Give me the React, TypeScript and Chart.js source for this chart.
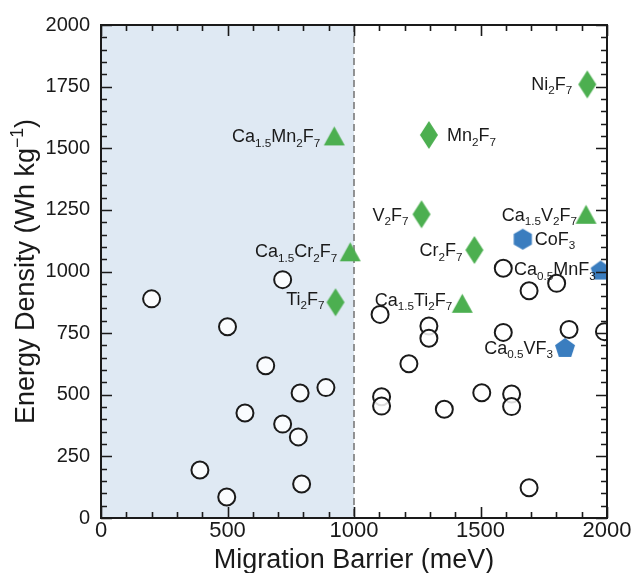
import { useEffect, useRef } from 'react';
import { Chart, registerables } from 'chart.js';

Chart.register(...registerables);

// ---------- data ----------
const X_MIN = 0;
const X_MAX = 2000;
const Y_MIN = 0;
const Y_MAX = 2000;
const X_TICKS = [0, 500, 1000, 1500, 2000];
const Y_TICKS = [0, 250, 500, 750, 1000, 1250, 1500, 1750, 2000];
const X_MINOR_STEP = 100;
const Y_MINOR_STEP = 50;
const BARRIER_LIMIT = 1000;

const X_TITLE = 'Migration Barrier (meV)';
const Y_TITLE = 'Energy Density (Wh kg^{−1})';

// other (unlabelled) compounds - open circles
const OTHER_X = [200, 497, 500, 651, 569, 718, 718, 787, 780, 889, 793, 391,
  1103, 1296, 1296, 1217, 1109, 1109, 1357, 1505, 1623, 1623, 1692, 1590, 1850, 1990, 1692, 1801, 1590];
const OTHER_Y = [889, 85, 776, 618, 426, 967, 381, 507, 329, 529, 138, 195,
  826, 779, 729, 626, 492, 454, 441, 508, 503, 452, 123, 753, 765, 756, 922, 952, 1013];

// Ca1.5M2F7 - triangles
const TRI_NAMES = ['Ca_{1.5}Mn_{2}F_{7}', 'Ca_{1.5}Cr_{2}F_{7}', 'Ca_{1.5}V_{2}F_{7}', 'Ca_{1.5}Ti_{2}F_{7}'];
const TRI_X = [922, 985, 1917, 1428];
const TRI_Y = [1550, 1080, 1232, 871];

// M2F7 - diamonds
const DIA_NAMES = ['Ni_{2}F_{7}', 'Mn_{2}F_{7}', 'V_{2}F_{7}', 'Cr_{2}F_{7}', 'Ti_{2}F_{7}'];
const DIA_X = [1922, 1296, 1267, 1476, 927];
const DIA_Y = [1759, 1554, 1232, 1087, 875];

// MF3 - hexagon
const HEX_NAMES = ['CoF_{3}'];
const HEX_X = [1667];
const HEX_Y = [1131];

// Ca0.5MF3 - pentagons
const PENT_NAMES = ['Ca_{0.5}MnF_{3}', 'Ca_{0.5}VF_{3}'];
const PENT_X = [1975, 1834];
const PENT_Y = [1006, 692];

// ---------- style ----------
const GREEN = '#4CAF50';
const BLUE = '#3A7DBF';
const SHADE = '#dfe9f3';
const INK = '#1a1a1a';
const FONT = '"Liberation Sans", Arial, Helvetica, sans-serif';

const LABEL_STYLE: Record<string, { side: 'left' | 'right'; gap: number; dy: number }> = {
  'Ca_{1.5}Mn_{2}F_{7}': { side: 'left', gap: 14, dy: 0 },
  'Ca_{1.5}Cr_{2}F_{7}': { side: 'left', gap: 13, dy: -1 },
  'Ca_{1.5}V_{2}F_{7}': { side: 'left', gap: 9, dy: 0 },
  'Ca_{1.5}Ti_{2}F_{7}': { side: 'left', gap: 10, dy: -4 },
  'Ni_{2}F_{7}': { side: 'left', gap: 15, dy: -1 },
  'Mn_{2}F_{7}': { side: 'right', gap: 18, dy: 0 },
  'V_{2}F_{7}': { side: 'left', gap: 13, dy: 0 },
  'Cr_{2}F_{7}': { side: 'left', gap: 12, dy: 0 },
  'Ti_{2}F_{7}': { side: 'left', gap: 11, dy: -4 },
  'CoF_{3}': { side: 'right', gap: 12, dy: -1 },
  'Ca_{0.5}MnF_{3}': { side: 'left', gap: 5, dy: -1 },
  'Ca_{0.5}VF_{3}': { side: 'left', gap: 12, dy: 0 },
};

type Part = { t: string; k: 'n' | 'sub' | 'sup' };

function parseRich(s: string): Part[] {
  const parts: Part[] = [];
  const re = /([_^])\{([^}]*)\}/g;
  let last = 0;
  let m: RegExpExecArray | null;
  while ((m = re.exec(s))) {
    if (m.index > last) parts.push({ t: s.slice(last, m.index), k: 'n' });
    parts.push({ t: m[2], k: m[1] === '_' ? 'sub' : 'sup' });
    last = re.lastIndex;
  }
  if (last < s.length) parts.push({ t: s.slice(last), k: 'n' });
  return parts;
}

function partFont(p: Part, size: number) {
  const s = p.k === 'n' ? size : size * 0.65;
  return `${s}px ${FONT}`;
}

function richWidth(ctx: CanvasRenderingContext2D, parts: Part[], size: number) {
  let w = 0;
  for (const p of parts) {
    ctx.font = partFont(p, size);
    w += ctx.measureText(p.t).width;
  }
  return w;
}

function drawRich(ctx: CanvasRenderingContext2D, text: string, x: number, baseline: number, size: number, align: 'left' | 'right' | 'center') {
  const parts = parseRich(text);
  const w = richWidth(ctx, parts, size);
  let cx = align === 'left' ? x : align === 'right' ? x - w : x - w / 2;
  ctx.textAlign = 'left';
  ctx.textBaseline = 'alphabetic';
  for (const p of parts) {
    ctx.font = partFont(p, size);
    const off = p.k === 'sub' ? size * 0.25 : p.k === 'sup' ? -size * 0.42 : 0;
    ctx.fillText(p.t, cx, baseline + off);
    cx += ctx.measureText(p.t).width;
  }
}

function makeShape(kind: 'diamond' | 'triangle' | 'hexagon' | 'pentagon', color: string): HTMLCanvasElement {
  const c = document.createElement('canvas');
  let pts: [number, number][] = [];
  let w = 0;
  let h = 0;
  if (kind === 'diamond') {
    w = 18; h = 28;
    pts = [[w / 2, 0], [w, h / 2], [w / 2, h], [0, h / 2]];
  } else if (kind === 'triangle') {
    w = 21; h = 19;
    pts = [[w / 2, 0], [w, h], [0, h]];
  } else {
    const n = kind === 'hexagon' ? 6 : 5;
    const r = 10.5;
    const raw: [number, number][] = [];
    for (let i = 0; i < n; i++) {
      const a = -Math.PI / 2 + (i * 2 * Math.PI) / n;
      raw.push([r * Math.cos(a), r * Math.sin(a)]);
    }
    const minX = Math.min(...raw.map((p) => p[0]));
    const maxX = Math.max(...raw.map((p) => p[0]));
    const minY = Math.min(...raw.map((p) => p[1]));
    const maxY = Math.max(...raw.map((p) => p[1]));
    w = maxX - minX; h = maxY - minY;
    pts = raw.map((p) => [p[0] - minX, p[1] - minY]);
  }
  const pad = 1;
  c.width = Math.ceil(w + pad * 2);
  c.height = Math.ceil(h + pad * 2);
  const ctx = c.getContext('2d')!;
  const ox = (c.width - w) / 2;
  const oy = (c.height - h) / 2;
  ctx.beginPath();
  pts.forEach((p, i) => (i ? ctx.lineTo(p[0] + ox, p[1] + oy) : ctx.moveTo(p[0] + ox, p[1] + oy)));
  ctx.closePath();
  ctx.fillStyle = color;
  ctx.fill();
  return c;
}

const zip = (xs: number[], ys: number[]) => xs.map((x, i) => ({ x, y: ys[i] }));

const decorPlugin = {
  id: 'decor',
  beforeDatasetsDraw(chart: any) {
    const { ctx, chartArea: a, scales } = chart;
    const xs = scales.x;
    const xl = xs.getPixelForValue(X_MIN);
    const xr = xs.getPixelForValue(BARRIER_LIMIT);
    ctx.save();
    ctx.fillStyle = SHADE;
    ctx.fillRect(xl, a.top, xr - xl, a.bottom - a.top);
    ctx.strokeStyle = '#7a7a7a';
    ctx.lineWidth = 1.6;
    ctx.setLineDash([7, 4]);
    ctx.beginPath();
    ctx.moveTo(xr, a.top);
    ctx.lineTo(xr, a.bottom);
    ctx.stroke();
    ctx.restore();
  },
  afterDatasetsDraw(chart: any) {
    const { ctx, chartArea: a, scales } = chart;
    const xs = scales.x;
    const ys = scales.y;
    ctx.save();
    // ticks (inward, all four sides)
    ctx.strokeStyle = INK;
    ctx.lineWidth = 1.6;
    ctx.beginPath();
    for (let v = X_MIN; v <= X_MAX; v += X_MINOR_STEP) {
      const px = Math.round(xs.getPixelForValue(v)) + 0.5;
      const len = X_TICKS.includes(v) ? 11 : 6;
      ctx.moveTo(px, a.bottom); ctx.lineTo(px, a.bottom - len);
      ctx.moveTo(px, a.top); ctx.lineTo(px, a.top + len);
    }
    for (let v = Y_MIN; v <= Y_MAX; v += Y_MINOR_STEP) {
      const py = Math.round(ys.getPixelForValue(v)) + 0.5;
      const len = Y_TICKS.includes(v) ? 11 : 6;
      ctx.moveTo(a.left, py); ctx.lineTo(a.left + len, py);
      ctx.moveTo(a.right, py); ctx.lineTo(a.right - len, py);
    }
    ctx.stroke();
    // frame
    ctx.lineWidth = 2;
    ctx.strokeRect(a.left, a.top, a.right - a.left, a.bottom - a.top);

    // point labels
    ctx.fillStyle = INK;
    const groups: [string[], number[], number[]][] = [
      [TRI_NAMES, TRI_X, TRI_Y],
      [DIA_NAMES, DIA_X, DIA_Y],
      [HEX_NAMES, HEX_X, HEX_Y],
      [PENT_NAMES, PENT_X, PENT_Y],
    ];
    const size = 18;
    for (const [names, gx, gy] of groups) {
      names.forEach((name, i) => {
        const st = LABEL_STYLE[name];
        const px = xs.getPixelForValue(gx[i]);
        const py = ys.getPixelForValue(gy[i]);
        const baseline = py + size * 0.716 / 2 + st.dy;
        if (st.side === 'left') drawRich(ctx, name, px - st.gap, baseline, size, 'right');
        else drawRich(ctx, name, px + st.gap, baseline, size, 'left');
      });
    }

    // axis titles
    const tSize = 27;
    drawRich(ctx, X_TITLE, (a.left + a.right) / 2, 568, tSize, 'center');
    ctx.translate(34, (a.top + a.bottom) / 2);
    ctx.rotate(-Math.PI / 2);
    drawRich(ctx, Y_TITLE, 0, 0, tSize, 'center');
    ctx.restore();
  },
};

export default function App() {
  const ref = useRef<HTMLCanvasElement | null>(null);

  useEffect(() => {
    document.body.style.margin = '0';
    const canvas = ref.current;
    if (!canvas) return;
    const tri = makeShape('triangle', GREEN);
    const dia = makeShape('diamond', GREEN);
    const hex = makeShape('hexagon', BLUE);
    const pent = makeShape('pentagon', BLUE);

    const chart = new Chart(canvas, {
      type: 'scatter',
      data: {
        datasets: [
          {
            label: 'Other',
            data: zip(OTHER_X, OTHER_Y),
            pointStyle: 'circle',
            pointRadius: 8.5,
            borderWidth: 2,
            borderColor: INK,
            backgroundColor: 'rgba(255,255,255,0.85)',
          },
          { label: 'Ca1.5M2F7', data: zip(TRI_X, TRI_Y), pointStyle: tri as any },
          { label: 'M2F7', data: zip(DIA_X, DIA_Y), pointStyle: dia as any },
          { label: 'MF3', data: zip(HEX_X, HEX_Y), pointStyle: hex as any },
          { label: 'Ca0.5MF3', data: zip(PENT_X, PENT_Y), pointStyle: pent as any },
        ],
      },
      options: {
        animation: false,
        responsive: false,
        devicePixelRatio: 1,
        layout: { padding: { left: 0, right: 28, top: 25, bottom: 0 } },
        plugins: { legend: { display: false }, tooltip: { enabled: false } },
        scales: {
          x: {
            type: 'linear',
            min: X_MIN,
            max: X_MAX,
            afterBuildTicks: (s: any) => { s.ticks = X_TICKS.map((value) => ({ value })); },
            afterFit: (s: any) => { s.height = 55; },
            grid: { display: false, drawTicks: false },
            border: { display: false },
            ticks: { padding: 0, color: INK, font: { family: FONT, size: 22 }, maxRotation: 0, callback: (v: any) => String(v) },
          },
          y: {
            type: 'linear',
            min: Y_MIN,
            max: Y_MAX,
            afterBuildTicks: (s: any) => { s.ticks = Y_TICKS.map((value) => ({ value })); },
            afterFit: (s: any) => { s.width = 101; },
            grid: { display: false, drawTicks: false },
            border: { display: false },
            ticks: { padding: 11, color: INK, font: { family: FONT, size: 20 }, callback: (v: any) => String(v) },
          },
        },
      },
      plugins: [decorPlugin],
    });
    return () => chart.destroy();
  }, []);

  return (
    <div style={{ width: 635, height: 573 }}>
      <canvas ref={ref} width={635} height={573} style={{ display: 'block', width: 635, height: 573 }} />
    </div>
  );
}
